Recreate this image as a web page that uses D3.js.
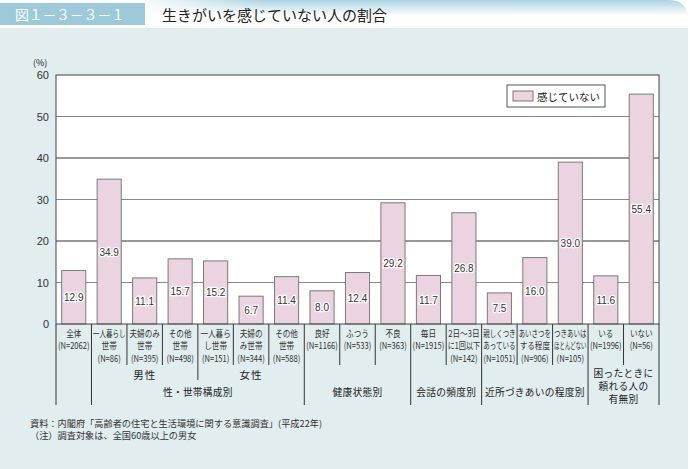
<!DOCTYPE html>
<html>
<head>
<meta charset="utf-8">
<script src="https://cdn.jsdelivr.net/npm/d3@7/dist/d3.min.js"></script>
<style>
  body { margin: 0; background: #fff; }
  svg { display: block; }
  text { font-family: "Noto Sans CJK JP", "Noto Sans", sans-serif; fill: #222; }
  .num { font-family: "Liberation Sans", Arial, sans-serif; }
</style>
</head>
<body>
<svg id="chart" width="690" height="469"></svg>
<script>
// data
var categories = [
  ["全体", "(N=2062)"],
  ["一人暮らし", "世帯", "(N=86)"],
  ["夫婦のみ", "世帯", "(N=395)"],
  ["その他", "世帯", "(N=498)"],
  ["一人暮ら", "し世帯", "(N=151)"],
  ["夫婦の", "み世帯", "(N=344)"],
  ["その他", "世帯", "(N=588)"],
  ["良好", "(N=1166)"],
  ["ふつう", "(N=533)"],
  ["不良", "(N=363)"],
  ["毎日", "(N=1915)"],
  ["2日～3日", "に1回以下", "(N=142)"],
  ["親しくつき", "あっている", "(N=1051)"],
  ["あいさつを", "する程度", "(N=906)"],
  ["つきあいは", "ほとんどない", "(N=105)"],
  ["いる", "(N=1996)"],
  ["いない", "(N=56)"]
];
var values = [12.9, 34.9, 11.1, 15.7, 15.2, 6.7, 11.4, 8.0, 12.4, 29.2, 11.7, 26.8, 7.5, 16.0, 39.0, 11.6, 55.4];
var subGroups = [
  {label: "男性", from: 1, to: 3},
  {label: "女性", from: 4, to: 6}
];
var groups = [
  {label: ["性・世帯構成別"], from: 1, to: 6},
  {label: ["健康状態別"], from: 7, to: 9},
  {label: ["会話の頻度別"], from: 10, to: 11},
  {label: ["近所づきあいの程度別"], from: 12, to: 14},
  {label: ["困ったときに", "頼れる人の", "有無別"], from: 15, to: 16}
];
var yTicks = [0, 10, 20, 30, 40, 50, 60];
var seriesName = "感じていない";
var figNo = "図１－３－３－１";
var title = "生きがいを感じていない人の割合";
var notes = ["資料：内閣府「高齢者の住宅と生活環境に関する意識調査」(平成22年)", "（注）調査対象は、全国60歳以上の男女"];

var svg = d3.select("#chart");
var pL = 56, pR = 659, pT = 75, pB = 324;

// header
var defs = svg.append("defs");
var grad = defs.append("linearGradient").attr("id", "hdr").attr("x1", 0).attr("y1", 0).attr("x2", 0).attr("y2", 1);
grad.append("stop").attr("offset", "0%").attr("stop-color", "#a9d4e2");
grad.append("stop").attr("offset", "55%").attr("stop-color", "#ffffff");
var grad2 = defs.append("linearGradient").attr("id", "hdr2").attr("x1", 0).attr("y1", 0).attr("x2", 1).attr("y2", 0);
grad2.append("stop").attr("offset", "0%").attr("stop-color", "#fff").attr("stop-opacity", 0.9);
grad2.append("stop").attr("offset", "40%").attr("stop-color", "#fff").attr("stop-opacity", 0);

svg.append("path")
  .attr("d", "M145,0 H668 Q688,0 688,20 V28 H145 Z")
  .attr("fill", "url(#hdr)");
svg.append("rect").attr("x", 145).attr("y", 0).attr("width", 300).attr("height", 28).attr("fill", "url(#hdr2)");
svg.append("rect").attr("x", 0).attr("y", 3).attr("width", 145).attr("height", 22).attr("fill", "#9ccadb");
svg.append("text").attr("x", 15).attr("y", 20).style("font-size", "14px").style("fill", "#fff").style("letter-spacing", "-0.3px").text(figNo);
svg.append("text").attr("x", 162).attr("y", 21).style("font-size", "15px").style("fill", "#222").text(title);

// panel
svg.append("rect").attr("x", 0).attr("y", 28).attr("width", 688).attr("height", 441).attr("fill", "#e1edef");

var x = d3.scaleBand().domain(d3.range(values.length)).range([pL, pR]).paddingInner(0.32).paddingOuter(0.16);
var y = d3.scaleLinear().domain([0, 60]).range([pB, pT]);
var step = x.step();
function edge(i) { return pL + i * step; }

svg.append("rect").attr("x", pL).attr("y", pT).attr("width", pR - pL).attr("height", pB - pT)
  .attr("fill", "#fff");

svg.append("g").selectAll("line").data(yTicks.filter(function(d) { return d > 0 && d < 60; }))
  .enter().append("line")
  .attr("x1", pL).attr("x2", pR)
  .attr("y1", function(d) { return y(d); }).attr("y2", function(d) { return y(d); })
  .attr("stroke", function(d) { return d % 20 == 0 ? "#333" : "#888"; })
  .attr("stroke-width", 1);

svg.append("g").selectAll("rect").data(values).enter().append("rect")
  .attr("x", function(d, i) { return x(i); })
  .attr("y", function(d) { return y(d); })
  .attr("width", x.bandwidth())
  .attr("height", function(d) { return y(0) - y(d); })
  .attr("fill", "#ecd3e2")
  .attr("stroke", "#7a7a7a")
  .attr("stroke-width", 1);

svg.append("g").selectAll("text").data(values).enter().append("text")
  .attr("class", "num")
  .attr("x", function(d, i) { return x(i) + x.bandwidth() / 2; })
  .attr("y", function(d) { return (y(d) + y(0)) / 2 + 4; })
  .attr("text-anchor", "middle")
  .style("font-size", "10px")
  .style("fill", "#333")
  .style("stroke", "#fff").style("stroke-width", 2.5).style("paint-order", "stroke")
  .text(function(d) { return d.toFixed(1); });

svg.append("rect").attr("x", pL).attr("y", pT).attr("width", pR - pL).attr("height", pB - pT)
  .attr("fill", "none").attr("stroke", "#444");

// y axis
var yAxis = svg.append("g").attr("transform", "translate(" + (pL - 7) + ",0)")
  .call(d3.axisLeft(y).tickValues(yTicks).tickSize(0).tickPadding(0));
yAxis.select(".domain").remove();
yAxis.selectAll("text").attr("class", "num").style("font-size", "11px").style("fill", "#333");
svg.append("text").attr("x", 33).attr("y", 66).style("font-size", "9px").text("(%)");

// legend
var lg = svg.append("g").attr("transform", "translate(507,85)");
lg.append("rect").attr("width", 98).attr("height", 22).attr("fill", "#fff").attr("stroke", "#555");
lg.append("rect").attr("x", 6).attr("y", 6).attr("width", 20).attr("height", 10).attr("fill", "#ecd3e2").attr("stroke", "#777");
lg.append("text").attr("x", 30).attr("y", 15.5).style("font-size", "10.5px").text(seriesName);

// category table
var deep = [0, 1, 17];
groups.forEach(function(g) { deep.push(g.from); deep.push(g.to + 1); });
var mid = subGroups.map(function(g) { return g.from; }).filter(function(d) { return deep.indexOf(d) < 0; });
svg.append("g").selectAll("line").data(d3.range(values.length + 1)).enter().append("line")
  .attr("x1", edge).attr("x2", edge)
  .attr("y1", pB)
  .attr("y2", function(i) { return deep.indexOf(i) >= 0 ? 405 : (mid.indexOf(i) >= 0 ? 380 : 365); })
  .attr("stroke", "#333").attr("stroke-width", 1);

var cat = svg.append("g");
categories.forEach(function(lines, i) {
  var cx = x(i) + x.bandwidth() / 2;
  lines.forEach(function(s, k) {
    var t = cat.append("text")
      .attr("text-anchor", "middle")
      .style("font-size", "9.5px")
      .style("fill", "#333")
      .text(s);
    var w = t.node().getComputedTextLength();
    var sx = Math.min(0.8, 32.5 / w);
    t.attr("transform", "translate(" + cx + "," + (336.5 + k * 12.5) + ") scale(" + sx + ",1)");
  });
});

subGroups.forEach(function(g) {
  svg.append("text")
    .attr("x", (edge(g.from) + edge(g.to + 1)) / 2).attr("y", 379)
    .attr("text-anchor", "middle").style("font-size", "10.5px").style("letter-spacing", "1px")
    .text(g.label);
});
groups.forEach(function(g) {
  var cx = (edge(g.from) + edge(g.to + 1)) / 2;
  var y0 = g.label.length > 1 ? 377 : 396;
  g.label.forEach(function(s, k) {
    svg.append("text")
      .attr("x", cx).attr("y", y0 + k * 13)
      .attr("text-anchor", "middle").style("font-size", "9.7px").style("letter-spacing", "0.3px")
      .text(s);
  });
});

// notes
notes.forEach(function(s, k) {
  svg.append("text").attr("x", 30).attr("y", 426.5 + k * 12.5)
    .style("font-size", "9.2px").style("fill", "#333").text(s);
});
</script>
</body>
</html>
